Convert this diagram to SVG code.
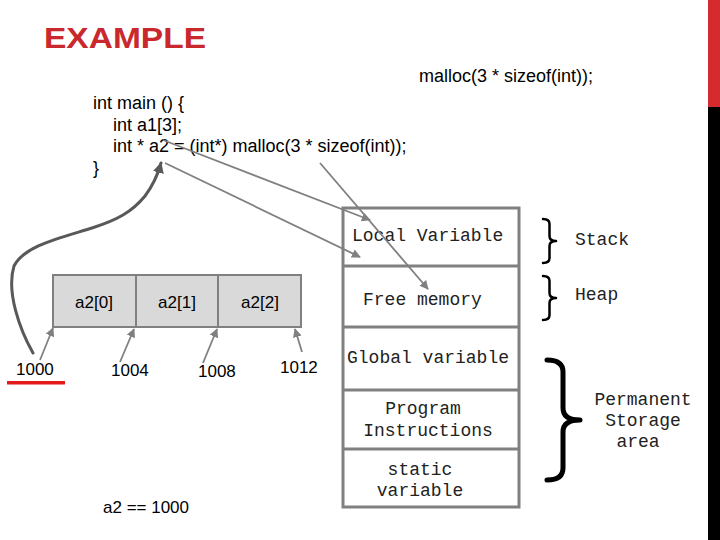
<svg xmlns="http://www.w3.org/2000/svg" width="720" height="540" viewBox="0 0 720 540">
<style>
.sans{font-family:"Liberation Sans",Arial,sans-serif;fill:#000}
.mono{font-family:"Liberation Mono","Courier New",monospace;font-size:18px;fill:#222}
.cell{fill:#d9d9d9;stroke:#808080;stroke-width:2}
.mem{fill:#fff;stroke:#808080;stroke-width:3}
.conn{fill:none;stroke:#808080;stroke-width:1.8}
.brace{fill:none;stroke:#000;stroke-linecap:round;stroke-linejoin:round}
</style>
<defs>
<marker id="ah" viewBox="0 0 10 10" refX="9" refY="5" markerWidth="9" markerHeight="9" markerUnits="userSpaceOnUse" orient="auto">
<path d="M0 0 L10 5 L0 10 z" fill="#808080"/>
</marker>
<marker id="ahd" viewBox="0 0 10 10" refX="9" refY="5" markerWidth="11" markerHeight="11" markerUnits="userSpaceOnUse" orient="auto">
<path d="M0 0 L10 5 L0 10 z" fill="#595959"/>
</marker>
</defs>
<rect width="720" height="540" fill="#fff"/>
<rect x="708" y="0" width="12" height="107" fill="#d52b2f"/>
<rect x="708" y="107" width="12" height="433" fill="#000"/>
<text x="44" y="48" style="font-family:'Liberation Sans',Arial,sans-serif;font-weight:bold;font-size:30px;fill:#c9282d" textLength="162" lengthAdjust="spacingAndGlyphs">EXAMPLE</text>
<text class="sans" x="419" y="82" font-size="18">malloc(3 * sizeof(int));</text>
<g id="code" class="sans" font-size="18">
<text x="93" y="109">int main () {</text>
<text x="113" y="131">int a1[3];</text>
<text x="113" y="152">int * a2 = (int*) malloc(3 * sizeof(int));</text>
<text x="93" y="174">}</text>
</g>
<g id="array">
<rect class="cell" x="53" y="275" width="83" height="52"/>
<rect class="cell" x="136" y="275" width="82" height="52"/>
<rect class="cell" x="218" y="275" width="83" height="52"/>
<text class="sans" font-size="17" x="94" y="308" text-anchor="middle">a2[0]</text>
<text class="sans" font-size="17" x="177" y="308" text-anchor="middle">a2[1]</text>
<text class="sans" font-size="17" x="260" y="308" text-anchor="middle">a2[2]</text>
</g>
<g id="addresses" class="sans" font-size="17">
<text x="16" y="375">1000</text>
<text x="111" y="376">1004</text>
<text x="198" y="377">1008</text>
<text x="280" y="373">1012</text>
<text x="103" y="513">a2 == 1000</text>
</g>
<rect x="7" y="381" width="58" height="3.5" fill="#e31b1b"/>
<g id="memory">
<rect class="mem" x="343" y="208" width="176" height="299"/>
<line class="mem" x1="343" y1="266" x2="519" y2="266"/>
<line class="mem" x1="343" y1="327" x2="519" y2="327"/>
<line class="mem" x1="343" y1="390" x2="519" y2="390"/>
<line class="mem" x1="343" y1="449" x2="519" y2="449"/>
<text class="mono" x="352" y="241">Local Variable</text>
<text class="mono" x="363" y="305">Free memory</text>
<text class="mono" x="347" y="363">Global variable</text>
<text class="mono" x="423" y="414" text-anchor="middle">Program</text>
<text class="mono" x="428" y="436" text-anchor="middle">Instructions</text>
<text class="mono" x="420" y="475" text-anchor="middle">static</text>
<text class="mono" x="420" y="496" text-anchor="middle">variable</text>
</g>
<g id="labels">
<path class="brace" stroke-width="2.5" d="M543 219 Q549.5 219 549.5 224 L549.5 236 Q549.5 241 556 241 Q549.5 241 549.5 246 L549.5 258 Q549.5 263 543 263"/>
<path class="brace" stroke-width="2.5" d="M543 276 Q549.5 276 549.5 281 L549.5 293 Q549.5 298 556 298 Q549.5 298 549.5 303 L549.5 315 Q549.5 320 543 320"/>
<path class="brace" stroke-width="5" d="M547 360 Q563 360 563 372 L563 408 Q563 420 580 420 Q563 420 563 432 L563 468 Q563 480 547 480"/>
<text class="mono" x="575" y="245">Stack</text>
<text class="mono" x="575" y="300">Heap</text>
<text class="mono" x="643" y="405" text-anchor="middle">Permanent</text>
<text class="mono" x="643" y="426" text-anchor="middle">Storage</text>
<text class="mono" x="638" y="447" text-anchor="middle">area</text>
</g>
<g id="connectors">
<path d="M33 353 C 20 330, 6 292, 14 266 C 24 246, 60 238, 92 228 C 117 220, 132 212, 145 196 C 154 184, 158 174, 161 163" fill="none" stroke="#595959" stroke-width="3" stroke-linecap="round" marker-end="url(#ahd)"/>
<line class="conn" x1="165" y1="163" x2="360" y2="257" marker-end="url(#ah)"/>
<line class="conn" x1="163" y1="140" x2="370" y2="220" marker-end="url(#ah)"/>
<line class="conn" x1="320" y1="163" x2="428" y2="289" marker-end="url(#ah)"/>
<line class="conn" x1="40" y1="360" x2="53" y2="328" marker-end="url(#ah)"/>
<line class="conn" x1="120" y1="362" x2="134" y2="329" marker-end="url(#ah)"/>
<line class="conn" x1="203" y1="363" x2="217" y2="329" marker-end="url(#ah)"/>
<line class="conn" x1="302" y1="352" x2="295" y2="329" marker-end="url(#ah)"/>
</g>
</svg>
